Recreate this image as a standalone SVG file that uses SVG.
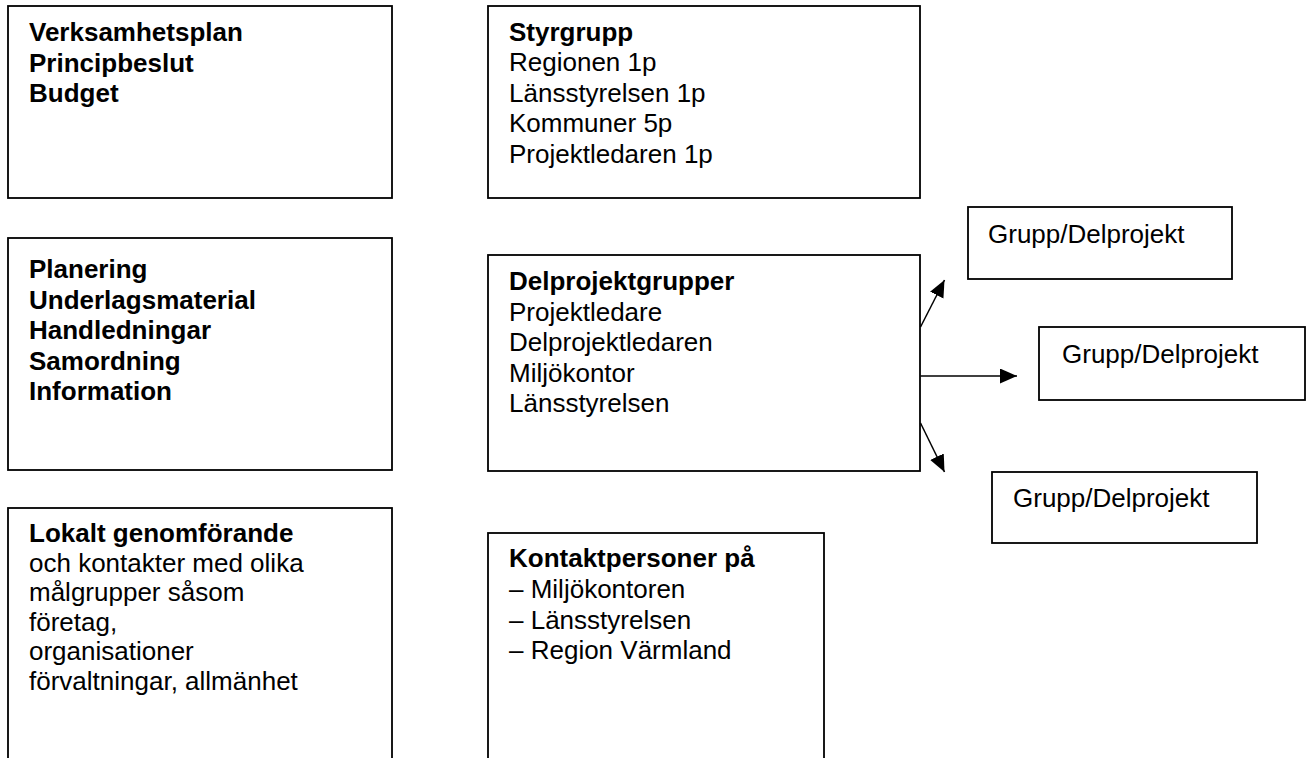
<svg xmlns="http://www.w3.org/2000/svg" width="1306" height="758" viewBox="0 0 1306 758">
<style>
.box{fill:#fff;stroke:#000;stroke-width:1.8}
text{font-family:"Liberation Sans",Arial,sans-serif;font-size:26px;fill:#000}
.b{font-weight:bold}
.conn{stroke:#000;stroke-width:1.5;fill:none}
</style>
<defs>
<marker id="arr" markerUnits="userSpaceOnUse" markerWidth="18" markerHeight="16" refX="17" refY="7.5" orient="auto">
<path d="M0,0 L17,7.5 L0,15 Z" fill="#000"/>
</marker>
</defs>
<rect width="1306" height="758" fill="#fff"/>
<g id="n-verksamhet">
<rect class="box" x="8" y="6" width="384" height="192"/>
<text class="b" x="29" y="41">Verksamhetsplan</text>
<text class="b" x="29" y="71.5">Principbeslut</text>
<text class="b" x="29" y="102">Budget</text>
</g>
<g id="n-styrgrupp">
<rect class="box" x="488" y="6" width="432" height="192"/>
<text class="b" x="509" y="40.5">Styrgrupp</text>
<text x="509" y="71">Regionen 1p</text>
<text x="509" y="101.5">Länsstyrelsen 1p</text>
<text x="509" y="132">Kommuner 5p</text>
<text x="509" y="162.5">Projektledaren 1p</text>
</g>
<g id="n-planering">
<rect class="box" x="8" y="238" width="384" height="232"/>
<text class="b" x="29" y="278">Planering</text>
<text class="b" x="29" y="308.5">Underlagsmaterial</text>
<text class="b" x="29" y="339">Handledningar</text>
<text class="b" x="29" y="369.5">Samordning</text>
<text class="b" x="29" y="400">Information</text>
</g>
<g id="n-delprojektgrupper">
<rect class="box" x="488" y="255" width="432" height="216"/>
<text class="b" x="509" y="290">Delprojektgrupper</text>
<text x="509" y="320.5">Projektledare</text>
<text x="509" y="351">Delprojektledaren</text>
<text x="509" y="381.5">Miljökontor</text>
<text x="509" y="412">Länsstyrelsen</text>
</g>
<g id="n-lokalt">
<rect class="box" x="8" y="508" width="384" height="270"/>
<text class="b" x="29" y="542">Lokalt genomförande</text>
<text x="29" y="571.5">och kontakter med olika</text>
<text x="29" y="601">målgrupper såsom</text>
<text x="29" y="630.5">företag,</text>
<text x="29" y="660">organisationer</text>
<text x="29" y="689.5">förvaltningar, allmänhet</text>
</g>
<g id="n-kontakt">
<rect class="box" x="488" y="533" width="336" height="245"/>
<text class="b" x="509" y="567">Kontaktpersoner på</text>
<text x="509" y="598">– Miljökontoren</text>
<text x="509" y="628.5">– Länsstyrelsen</text>
<text x="509" y="659">– Region Värmland</text>
</g>
<g id="n-grupp1">
<rect class="box" x="968" y="207" width="264" height="72"/>
<text x="988" y="243">Grupp/Delprojekt</text>
</g>
<g id="n-grupp2">
<rect class="box" x="1039" y="327" width="266" height="73"/>
<text x="1062" y="363">Grupp/Delprojekt</text>
</g>
<g id="n-grupp3">
<rect class="box" x="992" y="472" width="265" height="71"/>
<text x="1013" y="507">Grupp/Delprojekt</text>
</g>
<g id="connectors">
<line class="conn" x1="920.5" y1="327" x2="944.5" y2="280" marker-end="url(#arr)"/>
<line class="conn" x1="920.5" y1="376" x2="1017" y2="376" marker-end="url(#arr)"/>
<line class="conn" x1="920.5" y1="423" x2="944.5" y2="472" marker-end="url(#arr)"/>
</g>
</svg>
